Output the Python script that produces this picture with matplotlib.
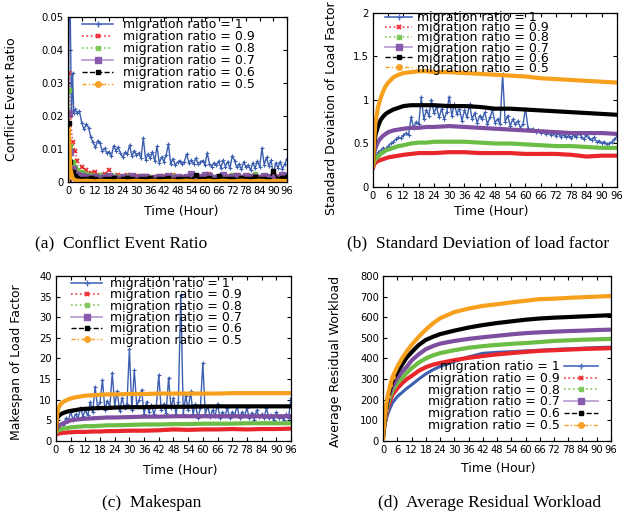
import matplotlib
matplotlib.use('Agg')
import matplotlib.pyplot as plt
from matplotlib.lines import Line2D

plt.rcParams['font.family'] = 'DejaVu Sans'

# ---------------- data ----------------
labels = ['migration ratio = 1', 'migration ratio = 0.9', 'migration ratio = 0.8',
          'migration ratio = 0.7', 'migration ratio = 0.6', 'migration ratio = 0.5']
x_ticks = [0, 6, 12, 18, 24, 30, 36, 42, 48, 54, 60, 66, 72, 78, 84, 90, 96]

hours = list(range(97))

# (a) conflict event ratio
t_a_blue = [0, 0.5, 1, 1.5, 2, 2.5, 3] + list(range(4, 97))
a_blue = [0.0, 0.06, 0.05, 0.02, 0.033, 0.021, 0.022,
          0.021, 0.0215, 0.018, 0.016, 0.0175, 0.0165, 0.0135, 0.012, 0.0105, 0.0125,
          0.0118, 0.0095, 0.0102, 0.0088, 0.0092, 0.0078, 0.011, 0.0095, 0.0105, 0.0088,
          0.0075, 0.009, 0.0085, 0.0112, 0.0078, 0.0095, 0.0082, 0.0088, 0.0072, 0.0134,
          0.0068, 0.0085, 0.0072, 0.0092, 0.0064, 0.0108, 0.0058, 0.0076, 0.0062, 0.0082,
          0.0115, 0.0055, 0.007, 0.0052, 0.006, 0.0065, 0.0055, 0.0062, 0.0085, 0.0058,
          0.0066, 0.0054, 0.0072, 0.0056, 0.0061, 0.0065, 0.0052, 0.0088, 0.0056, 0.0046,
          0.0059, 0.0051, 0.0063, 0.0043, 0.0066, 0.0047, 0.0062, 0.0041, 0.008, 0.0065,
          0.0044, 0.0055, 0.0038, 0.0061, 0.0045, 0.0052, 0.0036, 0.0058, 0.0042, 0.0064,
          0.0046, 0.0103, 0.0052, 0.0075, 0.0048, 0.0066, 0.0022, 0.0058, 0.0043, 0.0062,
          0.0039, 0.0055, 0.0071]
t_a = [0, 0.3, 1, 2, 3, 4] + list(range(6, 97, 2))
a_red = [0, 0.033, 0.02, 0.012, 0.0095, 0.0065,
         0.0045, 0.0035, 0.0028, 0.003, 0.0022, 0.0025, 0.0035, 0.0018, 0.0022, 0.0016,
         0.002, 0.0015, 0.0019, 0.0013, 0.0017, 0.0012, 0.0016, 0.0011, 0.0018, 0.0014,
         0.0022, 0.0012, 0.0015, 0.0011, 0.0014, 0.0019, 0.0012, 0.0015, 0.0024, 0.0012,
         0.0014, 0.0011, 0.0018, 0.0013, 0.0022, 0.0012, 0.0015, 0.0011, 0.0014, 0.0012,
         0.0016, 0.0011, 0.0013, 0.0017, 0.0012, 0.0014]
a_green = [0, 0.028, 0.011, 0.006, 0.0045, 0.0035,
           0.003, 0.0025, 0.0022, 0.0018, 0.002, 0.0017, 0.0015, 0.0019, 0.0016, 0.0014,
           0.0018, 0.0015, 0.0013, 0.0017, 0.0014, 0.0016, 0.0013, 0.0018, 0.0015, 0.0014,
           0.0017, 0.0012, 0.0016, 0.0014, 0.0019, 0.0015, 0.0013, 0.0016, 0.0022, 0.0014,
           0.0017, 0.0013, 0.0015, 0.0021, 0.0014, 0.0016, 0.0013, 0.0018, 0.0024, 0.0015,
           0.0017, 0.0014, 0.0025, 0.0016, 0.0018, 0.0021]
a_purple = [0, 0.021, 0.009, 0.004, 0.0025, 0.002,
            0.0018, 0.0015, 0.0012, 0.0016, 0.0011, 0.0014, 0.0017, 0.0012, 0.001, 0.0015,
            0.0012, 0.0018, 0.0011, 0.0014, 0.0016, 0.001, 0.0013, 0.0015, 0.0011, 0.0019,
            0.0013, 0.0016, 0.0012, 0.0014, 0.0025, 0.0013, 0.0015, 0.0022, 0.0018, 0.0012,
            0.0016, 0.0021, 0.0013, 0.0015, 0.0018, 0.0012, 0.0017, 0.0014, 0.0016, 0.0013,
            0.0019, 0.0015, 0.0016, 0.0012, 0.002, 0.0019]
a_black = [0, 0.018, 0.006, 0.003, 0.0018, 0.0012,
           0.001, 0.0008, 0.0012, 0.0009, 0.0007, 0.001, 0.0008, 0.0011, 0.0007, 0.0009,
           0.0012, 0.0008, 0.0007, 0.001, 0.0008, 0.0011, 0.0007, 0.0009, 0.0008, 0.0013,
           0.0007, 0.0009, 0.0008, 0.001, 0.0007, 0.0022, 0.0009, 0.0008, 0.0011, 0.0007,
           0.0018, 0.0009, 0.0008, 0.001, 0.0007, 0.0012, 0.0008, 0.0009, 0.0016, 0.0008,
           0.001, 0.0007, 0.0032, 0.0009, 0.0011, 0.0014]
a_orange = [0, 0.016, 0.004, 0.0012, 0.0006, 0.0004,
            0.0003, 0.0004, 0.0003, 0.0002, 0.0004, 0.0003, 0.0003, 0.0002, 0.0004, 0.0003,
            0.0002, 0.0003, 0.0004, 0.0003, 0.0002, 0.0003, 0.0004, 0.0002, 0.0003, 0.0003,
            0.0004, 0.0002, 0.0003, 0.0004, 0.0003, 0.0002, 0.0003, 0.0003, 0.0004, 0.0002,
            0.0003, 0.0004, 0.0003, 0.0002, 0.0003, 0.0004, 0.0003, 0.0002, 0.0003, 0.0004,
            0.0003, 0.0002, 0.0003, 0.0004, 0.0003, 0.0003]

# (b) standard deviation of load factor, (c) makespan
t_bc = [0, 0.5, 1, 2, 3, 4, 5, 6, 8, 10, 12, 15, 18, 21, 24, 30, 36, 42, 48, 54, 60, 66, 72, 78, 84, 90, 96]
b_blue = [0.25, 0.35, 0.4, 0.42, 0.45, 0.44, 0.47, 0.5, 0.52, 0.55,
          0.57, 0.56, 0.6, 0.62, 0.6, 0.8, 0.68, 0.75, 0.72, 1.03,
          0.78, 0.88, 0.82, 1.0, 0.85, 0.92, 0.8, 0.9, 0.78, 0.86,
          1.04, 0.82, 0.95, 0.84, 0.9, 0.76, 0.88, 0.8, 0.95, 0.78,
          0.85, 0.74, 0.82, 0.78, 0.86, 0.72, 0.8, 0.88, 0.74, 0.78,
          0.72, 1.3, 0.75, 0.82, 0.7, 0.78, 0.72, 0.76, 0.68, 0.72,
          0.9, 0.68, 0.65, 0.67, 0.63, 0.66, 0.62, 0.64, 0.61, 0.63,
          0.6, 0.62, 0.59, 0.61, 0.58, 0.6, 0.57, 0.59, 0.56, 0.6,
          0.57, 0.62, 0.58, 0.55, 0.6, 0.56, 0.54, 0.57, 0.52, 0.53,
          0.5, 0.52, 0.49, 0.5, 0.52, 0.55, 0.58]
b_red = [0.22, 0.26, 0.28, 0.3, 0.31, 0.32, 0.33, 0.34, 0.35, 0.36, 0.37, 0.38, 0.39, 0.39,
         0.39, 0.4, 0.4, 0.39, 0.39, 0.39, 0.38, 0.38, 0.38, 0.37, 0.35, 0.36, 0.36]
b_green = [0.25, 0.3, 0.32, 0.35, 0.38, 0.4, 0.42, 0.43, 0.45, 0.47, 0.48, 0.5, 0.51, 0.51,
           0.52, 0.52, 0.52, 0.51, 0.5, 0.5, 0.49, 0.48, 0.47, 0.47, 0.46, 0.45, 0.45]
b_purple = [0.3, 0.4, 0.45, 0.52, 0.56, 0.59, 0.61, 0.63, 0.65, 0.66, 0.67, 0.68, 0.68, 0.69,
            0.69, 0.7, 0.69, 0.68, 0.67, 0.66, 0.65, 0.64, 0.63, 0.62, 0.62, 0.62, 0.61]
b_black = [0.3, 0.5, 0.6, 0.7, 0.77, 0.81, 0.84, 0.86, 0.89, 0.91, 0.93, 0.94, 0.94, 0.94,
           0.94, 0.93, 0.93, 0.92, 0.9, 0.9, 0.89, 0.88, 0.87, 0.86, 0.85, 0.84, 0.83]
b_orange = [0.25, 0.55, 0.75, 0.92, 1.02, 1.1, 1.16, 1.2, 1.26, 1.29, 1.31, 1.32, 1.33, 1.33,
            1.32, 1.32, 1.31, 1.3, 1.29, 1.28, 1.27, 1.25, 1.24, 1.23, 1.22, 1.21, 1.2]

c_blue = [2.5, 3.5, 4.2, 3.8, 5.5, 4.8, 7, 5.2, 6.5, 5.5,
          8, 6, 7.5, 6.2, 9.5, 7, 13.2, 8, 9.5, 14.8,
          7.5, 9.8, 8.2, 16.5, 8.5, 12.1, 7.2, 10.5, 8, 9,
          22.3, 7.5, 17.2, 8.5, 10, 12.4, 6.5, 9.5, 7, 8.8,
          6.5, 8.5, 16, 7.5, 9, 6.8, 15.3, 8, 10.5, 6.5,
          9.5, 35.5, 6.5, 11, 7.5, 12, 6.5, 9, 5.5, 8,
          18.9, 6.5, 8.5, 5.8, 7.5, 6, 9, 5.5, 7, 6,
          8, 5.5, 7, 6.2, 8.5, 5.5, 7, 6, 8, 5.5,
          6.8, 5.2, 7.5, 5.8, 6.5, 5.5, 8, 5.5, 6.2, 5,
          7, 5.5, 6, 5, 6.5, 5.5, 10.4]
c_red = [1.5, 1.7, 1.8, 1.9, 2.0, 2.0, 2.1, 2.1, 2.2, 2.2, 2.2, 2.3, 2.3, 2.4,
         2.4, 2.5, 2.5, 2.6, 2.8, 2.7, 2.8, 2.8, 2.9, 2.8, 2.9, 2.9, 3.0]
c_green = [2, 2.4, 2.6, 2.8, 3.0, 3.1, 3.2, 3.3, 3.4, 3.5, 3.6, 3.6, 3.7, 3.8,
           3.8, 3.9, 4.0, 4.0, 4.1, 4.1, 4.2, 4.2, 4.2, 4.3, 4.3, 4.3, 4.3]
c_purple = [2.5, 3.2, 3.6, 4.0, 4.3, 4.5, 4.8, 5.0, 5.2, 5.3, 5.4, 5.5, 5.6, 5.7,
            5.7, 5.8, 5.9, 5.9, 6.0, 6.0, 6.0, 6.0, 6.0, 6.0, 6.0, 6.0, 6.0]
c_black = [2.5, 5.5, 6, 6.5, 6.8, 7, 7.2, 7.3, 7.5, 7.7, 7.8, 7.9, 8, 8,
           8.1, 8.2, 8.2, 8.3, 8.3, 8.3, 8.4, 8.4, 8.4, 8.4, 8.4, 8.4, 8.4]
c_orange = [2.5, 6.5, 8, 9, 9.5, 9.8, 10.1, 10.3, 10.6, 10.8, 11, 11.1, 11.2, 11.3,
            11.3, 11.4, 11.4, 11.5, 11.5, 11.5, 11.5, 11.5, 11.6, 11.6, 11.6, 11.6, 11.6]

# (d) average residual workload
t_d = [0, 1, 2, 3, 4, 6, 8, 10, 12, 15, 18, 21, 24, 30, 36, 42, 48, 54, 60, 66, 72, 78, 84, 90, 96]
d_blue = [20, 90, 130, 160, 185, 215, 235, 255, 272, 300, 325, 345, 361, 385, 408, 425, 430,
          433, 437, 440, 444, 447, 450, 453, 455]
d_red = [20, 110, 160, 195, 225, 255, 280, 300, 315, 340, 358, 370, 378, 392, 403, 412, 420,
         426, 432, 437, 440, 443, 446, 448, 450]
d_green = [20, 120, 175, 215, 245, 280, 305, 330, 352, 380, 400, 415, 426, 440, 452, 460, 466,
           471, 475, 480, 485, 488, 491, 493, 495]
d_purple = [20, 130, 190, 235, 265, 305, 335, 360, 390, 420, 445, 460, 472, 485, 495, 503, 510,
            517, 523, 527, 530, 533, 535, 538, 540]
d_black = [20, 140, 205, 255, 290, 335, 370, 405, 430, 465, 490, 505, 518, 535, 550, 562, 572,
           580, 588, 594, 598, 601, 604, 607, 610]
d_orange = [20, 150, 220, 270, 310, 360, 400, 435, 465, 505, 540, 570, 595, 625, 642, 655, 663,
            672, 680, 688, 690, 694, 697, 700, 703]

# ---------------- styles ----------------
BLUE, RED, GREEN, PURPLE, BLACK, ORANGE = '#3d5fb0', '#e8262b', '#6cbd45', '#7e4fa0', '#000000', '#f6a01e'
LEG_FS = 9

handles = [
    Line2D([], [], color='#4a6cc0', ls='-', lw=1.2, marker='+', ms=4, mew=1),
    Line2D([], [], color='#f0373c', ls=':', lw=1.2, marker='x', ms=3.5, mew=1.5),
    Line2D([], [], color='#7cc85a', ls=':', lw=1.2, marker='s', ms=3.5),
    Line2D([], [], color='#b599d0', ls='-', lw=1.2, marker='s', ms=4, mfc='#8a5ab0', mec='#8a5ab0'),
    Line2D([], [], color='black', ls='--', lw=1, marker='s', ms=3.5),
    Line2D([], [], color='#f8a22a', ls=(0, (3, 1.5, 1, 1.5)), lw=1, marker='o', ms=4),
]


def style_axes(ax, yticks, ylabels, ylim):
    ax.set_xlim(0, 96)
    ax.set_ylim(*ylim)
    ax.set_xticks(x_ticks)
    ax.set_xticklabels([str(v) for v in x_ticks])
    ax.set_yticks(yticks)
    ax.set_yticklabels(ylabels)
    ax.tick_params(direction='in', top=True, right=True, length=3, width=0.8,
                   labelsize=7.2, pad=3)
    for s in ax.spines.values():
        s.set_linewidth(0.9)


fig = plt.figure(figsize=(6.31, 5.19), dpi=100)

# ---- (a) ----
ax = fig.add_axes([0.1078, 0.6493, 0.3471, 0.3179])
ax.plot(t_a_blue, a_blue, color=BLUE, lw=1, marker='+', ms=3, mew=0.8)
ax.plot(t_a, a_red, color=RED, lw=1, ls=':', marker='x', ms=3.5, mew=1.2)
ax.plot(t_a, a_green, color=GREEN, lw=1, ls=':', marker='s', ms=3.5)
ax.plot(t_a, a_purple, color=PURPLE, lw=1, marker='s', ms=4, alpha=0.85)
ax.plot(t_a, a_black, color=BLACK, lw=1, ls='--', marker='s', ms=3.5)
ax.plot(t_a, a_orange, color=ORANGE, lw=3)
style_axes(ax, [0, 0.01, 0.02, 0.03, 0.04, 0.05], ['0', '0.01', '0.02', '0.03', '0.04', '0.05'], (0, 0.05))
ax.set_ylabel('Conflict Event Ratio', fontsize=9, va='center')
ax.yaxis.set_label_coords(-0.256, 0.5)
ax.set_xlabel('Time (Hour)', fontsize=9, va='center')
ax.xaxis.set_label_coords(0.515, -0.176)
ax.legend(handles, labels, loc='upper left', bbox_to_anchor=(0.064, 0.994), frameon=False,
          fontsize=LEG_FS, handlelength=2.5, handletextpad=0.75, labelspacing=-0.08,
          borderpad=0, borderaxespad=0)

# ---- (b) ----
ax = fig.add_axes([0.5911, 0.6397, 0.3867, 0.3353])
ax.plot(hours, b_blue, color=BLUE, lw=1, marker='+', ms=3, mew=0.8)
ax.plot(t_bc, b_red, color=RED, lw=3)
ax.plot(t_bc, b_green, color=GREEN, lw=3)
ax.plot(t_bc, b_purple, color=PURPLE, lw=3)
ax.plot(t_bc, b_black, color=BLACK, lw=3)
ax.plot(t_bc, b_orange, color=ORANGE, lw=3)
style_axes(ax, [0, 0.5, 1, 1.5, 2], ['0', '0.5', '1', '1.5', '2'], (0, 2))
ax.set_ylabel('Standard Deviation of Load Factor', fontsize=9, va='center')
ax.yaxis.set_label_coords(-0.172, 0.45)
ax.set_xlabel('Time (Hour)', fontsize=9, va='center')
ax.xaxis.set_label_coords(0.483, -0.138)
ax.legend(handles, labels, loc='upper left', bbox_to_anchor=(0.049, 1.01), frameon=False,
          fontsize=LEG_FS, handlelength=2.2, handletextpad=0.4, labelspacing=-0.23,
          borderpad=0, borderaxespad=0)

# ---- (c) ----
ax = fig.add_axes([0.0887, 0.1503, 0.3724, 0.3179])
ax.plot(hours, c_blue, color=BLUE, lw=1, marker='+', ms=3, mew=0.8)
ax.plot(t_bc, c_red, color=RED, lw=3)
ax.plot(t_bc, c_green, color=GREEN, lw=3)
ax.plot(t_bc, c_purple, color=PURPLE, lw=3)
ax.plot(t_bc, c_black, color=BLACK, lw=3)
ax.plot(t_bc, c_orange, color=ORANGE, lw=3)
c_ticks = [0, 5, 10, 15, 20, 25, 30, 35, 40]
style_axes(ax, c_ticks, [str(v) for v in c_ticks], (0, 40))
ax.set_ylabel('Makespan of Load Factor', fontsize=9, va='center')
ax.yaxis.set_label_coords(-0.166, 0.475)
ax.set_xlabel('Time (Hour)', fontsize=9, va='center')
ax.xaxis.set_label_coords(0.528, -0.176)
ax.legend(handles, labels, loc='upper left', bbox_to_anchor=(0.064, 0.994), frameon=False,
          fontsize=LEG_FS, handlelength=2.5, handletextpad=0.65, labelspacing=-0.13,
          borderpad=0, borderaxespad=0)

# ---- (d) ----
ax = fig.add_axes([0.6070, 0.1503, 0.3613, 0.3179])
ax.plot(t_d, d_blue, color=BLUE, lw=2.2)
ax.plot(t_d, d_red, color=RED, lw=3)
ax.plot(t_d, d_green, color=GREEN, lw=3)
ax.plot(t_d, d_purple, color=PURPLE, lw=3)
ax.plot(t_d, d_black, color=BLACK, lw=3)
ax.plot(t_d, d_orange, color=ORANGE, lw=3, marker='o', ms=2.5, markevery=[0, 1, 2, 3, 4])
d_ticks = [0, 100, 200, 300, 400, 500, 600, 700, 800]
style_axes(ax, d_ticks, [str(v) for v in d_ticks], (0, 800))
ax.set_ylabel('Average Residual Workload', fontsize=9, va='center')
ax.yaxis.set_label_coords(-0.21, 0.48)
ax.set_xlabel('Time (Hour)', fontsize=9, va='center')
ax.xaxis.set_label_coords(0.504, -0.164)
ax.legend(handles, labels, loc='upper right', bbox_to_anchor=(0.943, 0.49), frameon=False,
          fontsize=LEG_FS, handlelength=2.7, handletextpad=0.33, labelspacing=-0.1,
          borderpad=0, borderaxespad=0, markerfirst=False)

# captions
cap = dict(family='Liberation Serif', fontsize=12.5, ha='center', va='center')
fig.text(0.192, 0.532, '(a)  Conflict Event Ratio', **cap)
fig.text(0.7575, 0.532, '(b)  Standard Deviation of load factor', **cap)
fig.text(0.241, 0.0308, '(c)  Makespan', **cap)
fig.text(0.7765, 0.0308, '(d)  Average Residual Workload', **cap)

fig.savefig('out.png', dpi=100)
